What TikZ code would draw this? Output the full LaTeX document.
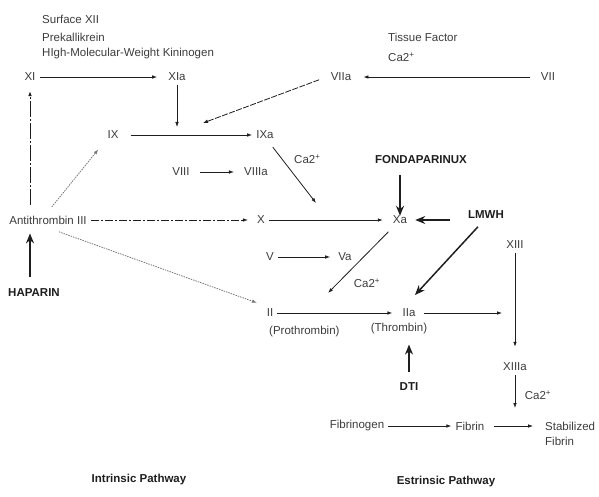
\documentclass[tikz,border=0pt]{standalone}
\usepackage{fontspec}
\setmainfont{Liberation Sans}
\usetikzlibrary{arrows.meta,calc}
\definecolor{txt}{RGB}{60,60,60}
\definecolor{btxt}{RGB}{30,30,30}
\definecolor{ln}{RGB}{30,30,30}
\begin{document}
\begin{tikzpicture}[x=1pt,y=-1pt,
  lbl/.style={inner sep=4pt,text=txt,font=\fontsize{11.5}{13}\selectfont},
  blbl/.style={inner sep=4pt,text=btxt,font=\fontsize{11.5}{13}\selectfont\bfseries},
  arr/.style={draw=ln,line width=0.8pt,-{Latex[length=5pt,width=3.6pt]}},
  thick arr/.style={draw=ln,line width=1.5pt,-{Stealth[length=10pt,width=8pt]}},
  dashdot/.style={dash pattern=on 8pt off 2pt on 2pt off 2pt},
  longdashdot/.style={dash pattern=on 16pt off 2pt on 2pt off 2pt},
  dotline/.style={draw=ln!60,dash pattern=on 1.5pt off 1pt},
  dashline/.style={dash pattern=on 6pt off 1.5pt}]
\useasboundingbox (0,0) rectangle (599,497);
% top labels
\node[lbl,anchor=west] (sxii) at (38,19) {Surface XII};
\node[lbl,anchor=west] (prek) at (38,37) {Prekallikrein};
\node[lbl,anchor=west] (hmwk) at (38,54) {HIgh-Molecular-Weight Kininogen};
\node[lbl,anchor=west] (tf) at (384,37) {Tissue Factor};
\node[lbl,anchor=west] (caa) at (384,57) {Ca2\textsuperscript{+}};
% factors
\node[lbl] (XI) at (30,77) {XI};
\node[lbl] (XIa) at (177,77) {XIa};
\node[lbl] (VIIa) at (341,77) {VIIa};
\node[lbl] (VII) at (548,77) {VII};
\node[lbl] (IX) at (113,135) {IX};
\node[lbl] (IXa) at (265,135) {IXa};
\node[lbl,anchor=west] (cab) at (290,159) {Ca2\textsuperscript{+}};
\node[lbl] (VIII) at (181,172) {VIII};
\node[lbl] (VIIIa) at (256,172) {VIIIa};
\node[blbl] (fonda) at (421,160) {FONDAPARINUX};
\node[lbl] (X) at (261,220) {X};
\node[lbl] (Xa) at (400,220) {Xa};
\node[lbl] (AT) at (48,220) {Antithrombin III};
\node[blbl] (lmwh) at (486,215) {LMWH};
\node[lbl] (V) at (270,257) {V};
\node[lbl] (Va) at (345,257) {Va};
\node[lbl] (XIII) at (515,245) {XIII};
\node[lbl] (cac) at (367,283) {Ca2\textsuperscript{+}};
\node[blbl] (hap) at (34,293) {HAPARIN};
\node[lbl] (II) at (270,313) {II};
\node[lbl,anchor=west] (proth) at (265,332) {(Prothrombin)};
\node[lbl] (IIa) at (409,313) {IIa};
\node[lbl] (thromb) at (399,329) {(Thrombin)};
\node[lbl] (XIIIa) at (515,367) {XIIIa};
\node[blbl] (DTI) at (409,387) {DTI};
\node[lbl] (cad) at (538,395) {Ca2\textsuperscript{+}};
\node[lbl] (fibg) at (357,426) {Fibrinogen};
\node[lbl] (fibn) at (470,426) {Fibrin};
\node[lbl,anchor=west] (stab) at (541,426) {Stabilized};
\node[lbl,anchor=west] (stabf) at (541,441) {Fibrin};
\node[blbl] (intr) at (139,480) {Intrinsic Pathway};
\node[blbl] (estr) at (446,482) {Estrinsic Pathway};
% free ends
\coordinate (c1) at (177,127);
\coordinate (c2) at (203,123);
\coordinate (c3) at (316,203);
\coordinate (c4) at (328,293);
\coordinate (c5) at (415,295);
\coordinate (c6) at (502,313);
\coordinate (c7) at (515,408);
% connectors
\draw[arr,shorten >=7pt] (XI) -- (XIa);
\draw[arr] (XIa) -- (c1);
\draw[arr,shorten <=7pt,shorten >=8pt] (VII) -- (VIIa);
\draw[arr,dashline,shorten <=8pt] (VIIa.west) -- (c2);
\draw[arr,shorten <=8pt] (IX) -- (IXa);
\draw[arr,shorten <=5pt] (IXa.300) -- (c3);
\draw[arr,shorten <=6pt,shorten >=6pt] (VIII) -- (VIIIa);
\draw[arr,shorten >=6pt] (X) -- (Xa);
\draw[arr,dashdot,shorten >=5pt] (AT) -- (X);
\draw[arr,longdashdot,shorten <=7pt,shorten >=6pt] (AT.north -| XI) -- (XI);
\draw[arr,dotline,shorten <=6pt,shorten >=8pt] (AT.north) -- (IX.south west);
\draw[arr,dotline,shorten <=10pt,shorten >=6pt] (AT.-80) -- (II.north west);
\draw[thick arr,shorten <=8pt,shorten >=5pt] (hap.north -| XI) -- (AT.south -| XI);
\draw[thick arr,shorten <=7pt,shorten >=-4pt] (fonda.south -| Xa) -- (Xa);
\draw[thick arr,shorten <=14pt,shorten >=4pt] (lmwh.west |- Xa) -- (Xa);
\draw[thick arr,shorten <=5pt] (lmwh.240) -- (c5);
\draw[arr,shorten >=4pt] (V) -- (Va);
\draw[arr,shorten <=5pt] (Xa) -- (c4);
\draw[arr,shorten >=6pt] (II) -- (IIa);
\draw[arr,shorten <=4pt] (IIa) -- (c6);
\draw[arr,shorten >=12pt] (XIII) -- (XIIIa);
\draw[arr] (XIIIa) -- (c7);
\draw[thick arr,shorten <=7pt,shorten >=6pt] (DTI) -- (DTI |- thromb.south);
\draw[arr] (fibg) -- (fibn);
\draw[arr,shorten <=5pt,shorten >=8pt] (fibn) -- (stab);
\end{tikzpicture}
\end{document}
